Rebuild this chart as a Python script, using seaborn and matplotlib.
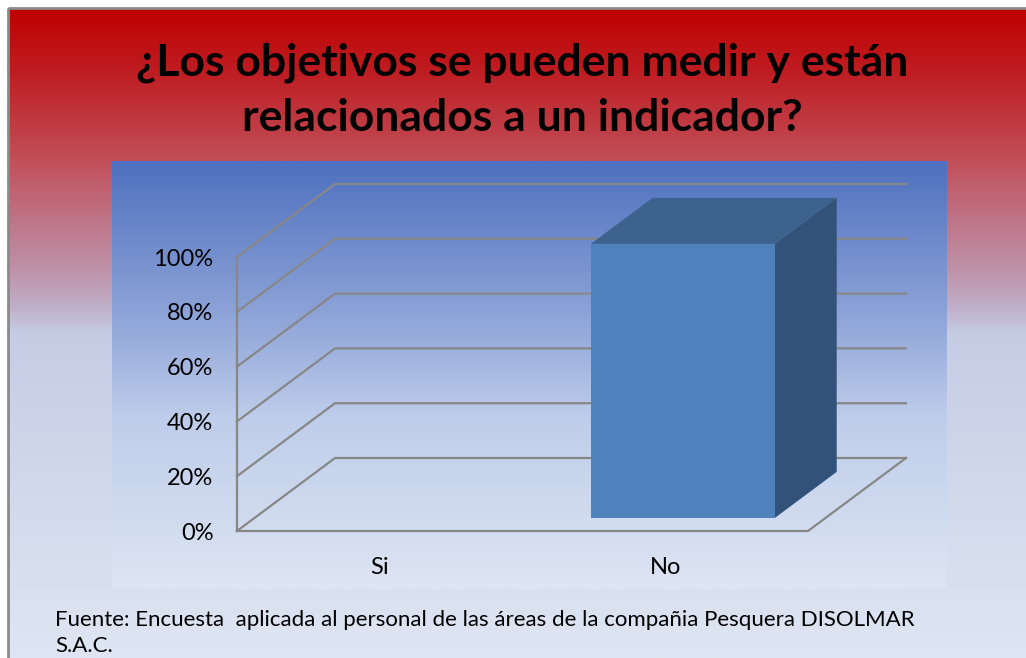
import numpy as np
import pandas as pd
import matplotlib
matplotlib.use("Agg")
import matplotlib.pyplot as plt
import seaborn as sns
from matplotlib.patches import Polygon, Rectangle

# ---------------- data ----------------
categories = ["Si", "No"]
values = [0, 100]
yticks = [0, 20, 40, 60, 80, 100]
ytick_labels = ["0%", "20%", "40%", "60%", "80%", "100%"]
bar_labels = ["", "100%"]
title_lines = ["¿Los objetivos se pueden medir y están", "relacionados a un indicador?"]
source_lines = ["Fuente: Encuesta  aplicada al personal de las áreas de la compañia Pesquera DISOLMAR",
                "S.A.C."]

plt.rcParams["font.family"] = ["Lato", "DejaVu Sans"]

W, H = 1026, 658
fig = plt.figure(figsize=(W / 100, H / 100), dpi=100)
fig.patch.set_facecolor("white")


def grad(stops, n):
    pos = np.array([s[0] for s in stops])
    cols = np.array([s[1] for s in stops], dtype=float) / 255.0
    t = np.linspace(0, 1, n)
    out = np.stack([np.interp(t, pos, cols[:, k]) for k in range(3)], axis=1)
    return out[:, None, :]


# ---------------- background ----------------
bg = fig.add_axes([0, 0, 1, 1], zorder=0)
bg.set_xlim(0, W)
bg.set_ylim(H, 0)
bg.set_axis_off()
fig_stops = [(0.0, (192, 0, 0)), (0.10, (190, 30, 35)), (0.24, (194, 82, 92)),
             (0.33, (190, 118, 138)), (0.40, (190, 145, 168)), (0.46, (192, 175, 200)),
             (0.50, (198, 204, 228)), (1.0, (222, 230, 243))]
bg.imshow(grad(fig_stops, 400), extent=(8, W + 2, H, 8), aspect="auto", interpolation="bilinear")
bg.add_patch(Rectangle((8, 8), W + 10, H + 10, fill=False, ec="#8a8a8a", lw=2))
plot_stops = [(0.0, (78, 112, 190)), (0.35, (140, 162, 215)), (0.6, (190, 205, 234)),
              (1.0, (222, 229, 243))]
bg.imshow(grad(plot_stops, 400), extent=(112, 947, 589, 161), aspect="auto", interpolation="bilinear")
bg.set_xlim(0, W)
bg.set_ylim(H, 0)

# ---------------- main 3D-like axes (front plane) ----------------
L, R, B, T = 237, 808, 531, 257
ax = fig.add_axes([L / W, 1 - B / H, (R - L) / W, (B - T) / H], zorder=2)
ax.set_facecolor("none")

df = pd.DataFrame({"cat": categories, "val": values})
sns.barplot(data=df, x="cat", y="val", order=categories, ax=ax, width=0.645,
            color="#4F81BD", saturation=1, edgecolor="none", zorder=5)

ax.set_xlim(-0.5, 1.5)
ax.set_ylim(0, 100)
for s in ax.spines.values():
    s.set_visible(False)
ax.set_xlabel("")
ax.set_ylabel("")
ax.set_yticks(yticks)
ax.set_yticklabels(ytick_labels, fontsize=17, color="black")
ax.tick_params(axis="y", length=0, pad=17)
ax.tick_params(axis="x", length=0, pad=19, labelsize=17, labelcolor="black")

# depth vector in data units
Dx = 98 / ((R - L) / 2.0)
Dy = 73 / (B - T) * 100
grid_c = "#878787"
for v in yticks:
    ax.plot([-0.5, -0.5 + Dx, 1.5 + Dx], [v, v + Dy, v + Dy], color=grid_c, lw=1.6,
            clip_on=False, zorder=1, solid_joinstyle="miter")
ax.plot([-0.5, 1.5, 1.5 + Dx], [0, 0, Dy], color=grid_c, lw=1.6, clip_on=False, zorder=1)
ax.plot([-0.5, -0.5], [0, 100], color=grid_c, lw=1.6, clip_on=False, zorder=1)

d0, d1 = 0.18, 0.81
container = ax.containers[0]
for p in container.patches:
    x0 = p.get_x()
    w = p.get_width()
    h = p.get_height()
    x1 = x0 + w
    p.set_x(x0 + d0 * Dx)
    p.set_y(d0 * Dy)
    p.set_clip_on(False)
    if h <= 0:
        p.set_visible(False)
        continue
    side = [(x1 + d0 * Dx, d0 * Dy), (x1 + d1 * Dx, d1 * Dy),
            (x1 + d1 * Dx, h + d1 * Dy), (x1 + d0 * Dx, h + d0 * Dy)]
    top = [(x0 + d0 * Dx, h + d0 * Dy), (x1 + d0 * Dx, h + d0 * Dy),
           (x1 + d1 * Dx, h + d1 * Dy), (x0 + d1 * Dx, h + d1 * Dy)]
    ax.add_patch(Polygon(side, closed=True, fc="#335279", ec="none", clip_on=False, zorder=4))
    ax.add_patch(Polygon(top, closed=True, fc="#3D628E", ec="none", clip_on=False, zorder=4))

ax.bar_label(container, labels=bar_labels, label_type="center", fontsize=17, color="black")

# ---------------- texts ----------------
fig.text(522 / W, 1 - 63 / H, title_lines[0], ha="center", va="center",
         fontsize=32, fontweight="bold", color="black")
fig.text(522 / W, 1 - 118 / H, title_lines[1], ha="center", va="center",
         fontsize=32, fontweight="bold", color="black")
fig.text(55 / W, 1 - 620 / H, source_lines[0], ha="left", va="center", fontsize=16, color="black")
fig.text(55 / W, 1 - 646 / H, source_lines[1], ha="left", va="center", fontsize=16, color="black")

fig.savefig("out.png", dpi=100)
